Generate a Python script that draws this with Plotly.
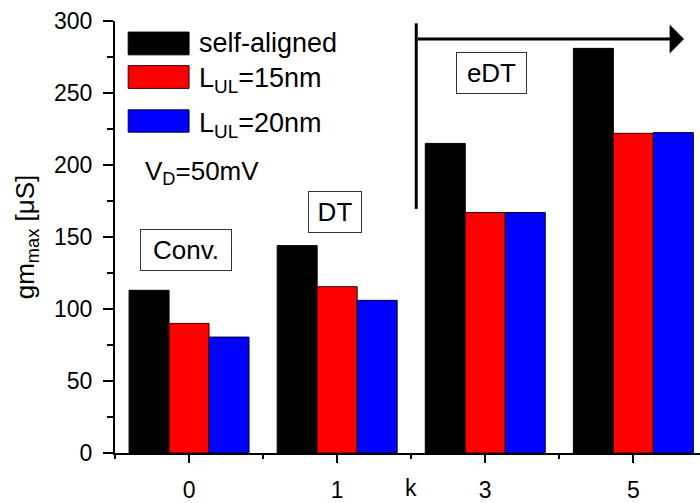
import plotly.graph_objects as go

# ---- data ----
k_labels = ["0", "1", "3", "5"]
k_pos = [0, 1, 2, 3]
series_names = ["self-aligned", "L<sub>UL</sub>=15nm", "L<sub>UL</sub>=20nm"]
self_aligned = [113, 144, 215, 281]
l_ul_15 = [90, 115.5, 167, 222]
l_ul_20 = [80.5, 106, 167, 222.5]
colors = ["#000000", "#ff0000", "#0000ff"]
edge_colors = ["#000000", "#3a0000", "#00003a"]

FONT = "Liberation Sans, Arial, sans-serif"

fig = go.Figure()
for name, vals, c, ec in zip(series_names, [self_aligned, l_ul_15, l_ul_20], colors, edge_colors):
    fig.add_trace(go.Bar(x=k_pos, y=vals, name=name, marker=dict(color=c, line=dict(color=ec, width=1)),
                         showlegend=False))

fig.update_layout(
    width=700, height=503,
    margin=dict(l=115, r=0, t=21, b=45),
    plot_bgcolor="white", paper_bgcolor="white",
    barmode="group", bargap=0.19, bargroupgap=0,
    font=dict(family=FONT, color="black"),
)

fig.update_xaxes(
    range=[-0.5, 3.45], tickmode="array", tickvals=k_pos, ticktext=k_labels,
    showline=True, linewidth=2, linecolor="black", mirror=False,
    ticks="outside", ticklen=8, tickwidth=2, tickcolor="black",
    tickfont=dict(size=23), ticklabelstandoff=7, showgrid=False, zeroline=False,
    minor=dict(tickmode="array", tickvals=[-0.5, 0.5, 1.5, 2.5], ticks="outside", ticklen=4, tickwidth=2, tickcolor="black"),
)
fig.update_yaxes(
    range=[0, 300], tickmode="array", tickvals=[0, 50, 100, 150, 200, 250, 300],
    showline=True, linewidth=2, linecolor="black",
    ticks="outside", ticklen=10, tickwidth=2, tickcolor="black",
    tickfont=dict(size=23), ticklabelstandoff=6, showgrid=False, zeroline=False,
    minor=dict(tickmode="array", tickvals=[25, 75, 125, 175, 225, 275], ticks="outside", ticklen=6, tickwidth=2, tickcolor="black"),
    title=dict(text="gm<sub>max</sub> [μS]", font=dict(size=26), standoff=12),
)

# custom legend
legend_rows = [
    (series_names[0], colors[0], edge_colors[0], 276.5, 292.3, 284.8),
    (series_names[1], colors[1], edge_colors[1], 253.2, 269.0, 259.0),
    (series_names[2], colors[2], edge_colors[2], 222.8, 238.3, 228.0),
]
for text, c, ec, y0, y1, yt in legend_rows:
    fig.add_shape(type="rect", xref="x", yref="y", x0=-0.411, x1=0.0, y0=y0, y1=y1,
                  fillcolor=c, line=dict(color=ec, width=1), layer="above")
    fig.add_annotation(x=0.054, y=yt, xref="x", yref="y", text=text, showarrow=False,
                       xanchor="left", yanchor="middle", font=dict(size=27))

fig.add_annotation(x=-0.31, y=195, xref="x", yref="y", text="V<sub>D</sub>=50mV", showarrow=False,
                   xanchor="left", yanchor="middle", font=dict(size=26))

# boxed labels
for text, x, y, w in [("Conv.", -0.024, 140.7, 88), ("DT", 0.984, 167.5, 50), ("eDT", 2.045, 264.1, 67)]:
    fig.add_annotation(x=x, y=y, xref="x", yref="y", text=text, showarrow=False,
                       font=dict(size=26), bordercolor="#333333", borderwidth=1, borderpad=1,
                       width=w, height=38, bgcolor="white", xanchor="center", yanchor="middle")

# eDT region marker
fig.add_shape(type="line", xref="x", yref="y", x0=1.534, x1=1.534, y0=169.5, y1=298.4,
              line=dict(color="black", width=3))
fig.add_annotation(x=3.342, y=287.5, ax=1.534, ay=287.5, xref="x", yref="y", axref="x", ayref="y",
                   text="", showarrow=True, arrowhead=1, arrowsize=1.6, arrowwidth=3, arrowcolor="black",
                   standoff=0, startstandoff=0)

# x axis title "k" at the minor tick between 1 and 3
fig.add_annotation(x=1.5, y=0, xref="x", yref="paper", yshift=-35, text="k", showarrow=False,
                   font=dict(size=23), yanchor="middle")

fig.write_html("out.html")
